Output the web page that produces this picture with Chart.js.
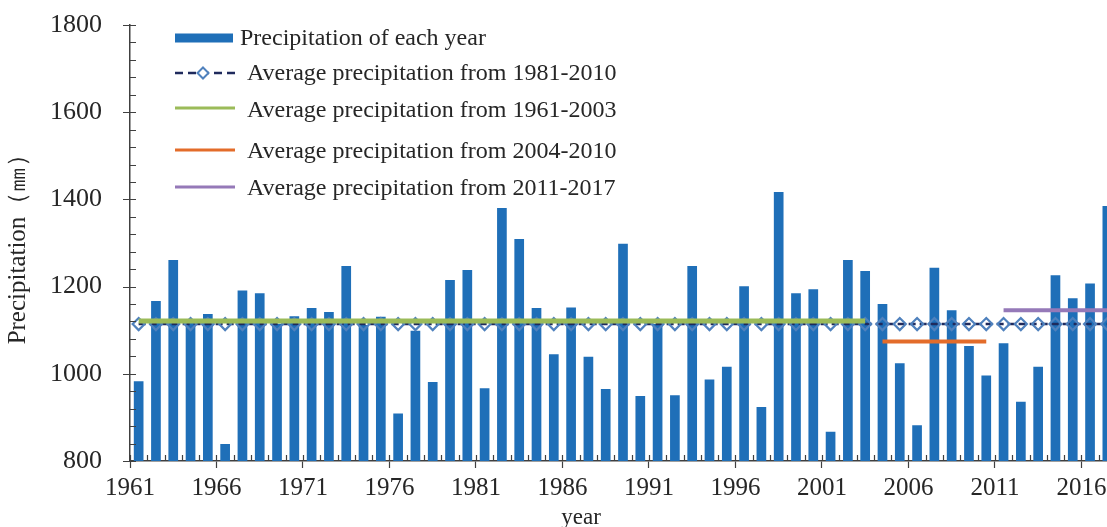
<!DOCTYPE html>
<html>
<head>
<meta charset="utf-8">
<script src="https://cdn.jsdelivr.net/npm/chart.js@4.4.1/dist/chart.umd.min.js"></script>
<style>
html,body{margin:0;padding:0;overflow:hidden;background:#fff;width:1107px;height:527px;}
#wrap{position:absolute;left:0;top:0;width:1130px;height:527px;}
.txt{position:absolute;white-space:nowrap;font-family:"Liberation Serif","Times New Roman",serif;color:#262626;}
.leg{font-size:24px;line-height:24px;}
svg.mk{position:absolute;overflow:visible;}
</style>
</head>
<body>
<div id="wrap"><canvas id="c"></canvas></div>
<div id="legend"></div>
<div class="txt" style="left:581px;top:502px;font-size:23px;line-height:30px;transform:translateX(-50%);">year</div>
<script>
// ---- data ----
const years = [1961,1962,1963,1964,1965,1966,1967,1968,1969,1970,
               1971,1972,1973,1974,1975,1976,1977,1978,1979,1980,
               1981,1982,1983,1984,1985,1986,1987,1988,1989,1990,
               1991,1992,1993,1994,1995,1996,1997,1998,1999,2000,
               2001,2002,2003,2004,2005,2006,2007,2008,2009,2010,
               2011,2012,2013,2014,2015,2016,2017];
const precipitation = [983,1167,1261,1118,1137,839,1191,1185,1115,1132,
                       1151,1142,1247,1112,1131,909,1099,981,1215,1238,
                       967,1380,1309,1151,1045,1152,1039,965,1298,949,
                       1114,951,1247,987,1016,1201,924,1417,1185,1194,
                       867,1261,1236,1160,1024,882,1243,1146,1064,996,
                       1070,936,1016,1226,1173,1207,1385];
const avg1981_2010 = 1114;
const avg1961_2003 = 1121;
const avg2004_2010 = 1074;
const avg2011_2017 = 1146;
const yTicks = [800,1000,1200,1400,1600,1800];
const seriesNames = ["Precipitation of each year",
  "Average precipitation from 1981-2010",
  "Average precipitation from 1961-2003",
  "Average precipitation from 2004-2010",
  "Average precipitation from 2011-2017"];

const labels = years.map(String);
const span = (a, b, v) => years.map(y => (y >= a && y <= b) ? v : null);

const C = {bar:'#1F6FB8', navy:'#1F2A5C', diamond:'#4F81BD', green:'#9BBB59', orange:'#E36C2A', purple:'#9579B8', axis:'#404040', text:'#262626'};
const serif = "'Liberation Serif','Times New Roman',serif";

const innerTicks = {
  id: 'innerTicks',
  afterDraw(chart) {
    const {ctx, scales: {x, y}} = chart;
    ctx.save();
    ctx.strokeStyle = C.axis;
    ctx.lineWidth = 1.2;
    ctx.beginPath();
    const n = x.ticks.length;
    const w = (x.right - x.left) / n;
    for (let i = 0; i <= n; i++) {
      const px = Math.round(x.left + i * w) + 0.5;
      ctx.moveTo(px, y.bottom);
      ctx.lineTo(px, y.bottom - 6);
    }
    y.ticks.forEach(t => {
      const py = Math.round(y.getPixelForValue(t.value)) + 0.5;
      const major = yTicks.includes(t.value);
      ctx.moveTo(x.left - (major ? 7 : 0), py);
      ctx.lineTo(x.left + 6, py);
    });
    ctx.stroke();
    ctx.restore();
  }
};

new Chart(document.getElementById('c'), {
  data: {
    labels: labels,
    datasets: [
      {type:'bar', label: seriesNames[0], data: precipitation, backgroundColor: C.bar,
       barPercentage: 0.56, categoryPercentage: 1, order: 3},
      {type:'line', label: seriesNames[1], data: span(1961, 2017, avg1981_2010),
       borderColor: C.navy, borderWidth: 2.5, borderDash: [7, 4],
       pointStyle: 'rectRot', pointRadius: 6, pointBorderColor: C.diamond,
       pointBackgroundColor: 'rgba(0,0,0,0)', pointBorderWidth: 2.2, order: 2},
      {type:'line', label: seriesNames[2], data: span(1961, 2003, avg1961_2003),
       borderColor: C.green, borderWidth: 5, pointRadius: 0, order: 1},
      {type:'line', label: seriesNames[3], data: span(2004, 2010, avg2004_2010),
       borderColor: C.orange, borderWidth: 4, pointRadius: 0, order: 1},
      {type:'line', label: seriesNames[4], data: span(2011, 2017, avg2011_2017),
       borderColor: C.purple, borderWidth: 4, pointRadius: 0, order: 1}
    ]
  },
  options: {
    responsive: true,
    maintainAspectRatio: false,
    animation: false,
    layout: {padding: {top: 25, right: 14, left: 0, bottom: 0}},
    plugins: {legend: {display: false}, tooltip: {enabled: false}},
    scales: {
      x: {
        type: 'category', offset: true, z: 1,
        grid: {offset: true, drawOnChartArea: false, drawTicks: true, tickLength: 7, tickWidth: 1.2,
               tickColor: ctx => (ctx.index % 5 === 0 && ctx.index < years.length) ? C.axis : 'rgba(0,0,0,0)'},
        border: {display: true, color: C.axis, width: 1.5},
        ticks: {autoSkip: false, maxRotation: 0, minRotation: 0, labelOffset: -8.65, padding: 5,
                color: C.text, font: {family: serif, size: 25},
                callback: (v, i) => ((years[i] - years[0]) % 5 === 0) ? labels[i] : ''},
        afterFit: s => { s.height = 66; s.paddingLeft = 0; s.paddingRight = 0; }
      },
      y: {
        type: 'linear', min: yTicks[0], max: yTicks[yTicks.length - 1], z: 1,
        grid: {drawOnChartArea: false, drawTicks: true, tickLength: 28, tickColor: 'rgba(0,0,0,0)'},
        border: {display: true, color: C.axis, width: 1.5},
        ticks: {stepSize: 40, autoSkip: false, padding: 0, color: C.text, font: {family: serif, size: 26},
                callback: v => yTicks.includes(v) ? String(v) : ''},
        title: {display: true, text: 'Precipitation（㎜）', color: C.text, font: {family: serif, size: 25},
                padding: {top: 3, bottom: 0}},
        afterFit: s => { s.width = 130; s.paddingTop = 0; s.paddingBottom = 0; }
      }
    }
  },
  plugins: [innerTicks]
});

// ---- legend (HTML) ----
const legend = document.getElementById('legend');
const rows = [
  {base: 45, mk: 37.5, tx: 240, kind: 'bar', color: C.bar},
  {base: 80, mk: 73, tx: 247, kind: 'dash', color: C.navy},
  {base: 117, mk: 108, tx: 247, kind: 'line', color: C.green},
  {base: 158, mk: 150, tx: 247, kind: 'line', color: C.orange},
  {base: 195, mk: 187, tx: 247, kind: 'line', color: C.purple}
];
rows.forEach((r, i) => {
  const svgNS = 'http://www.w3.org/2000/svg';
  const svg = document.createElementNS(svgNS, 'svg');
  svg.setAttribute('class', 'mk');
  svg.setAttribute('width', '62'); svg.setAttribute('height', '14');
  svg.style.left = '175px'; svg.style.top = (r.mk - 7) + 'px';
  if (r.kind === 'bar') {
    svg.innerHTML = `<rect x="0" y="2.5" width="58" height="9" fill="${r.color}"/>`;
  } else if (r.kind === 'dash') {
    svg.innerHTML = `<line x1="0" y1="7" x2="60" y2="7" stroke="${r.color}" stroke-width="2.5" stroke-dasharray="8 5"/>` +
      `<path d="M28 1.5 L33.5 7 L28 12.5 L22.5 7 Z" fill="#fff" stroke="${C.diamond}" stroke-width="2"/>`;
  } else {
    svg.innerHTML = `<line x1="0" y1="7" x2="60" y2="7" stroke="${r.color}" stroke-width="3"/>`;
  }
  legend.appendChild(svg);
  const d = document.createElement('div');
  d.className = 'txt leg';
  d.style.left = r.tx + 'px';
  d.style.top = (r.base - 20) + 'px';
  d.textContent = seriesNames[i];
  legend.appendChild(d);
});
</script>
</body>
</html>
